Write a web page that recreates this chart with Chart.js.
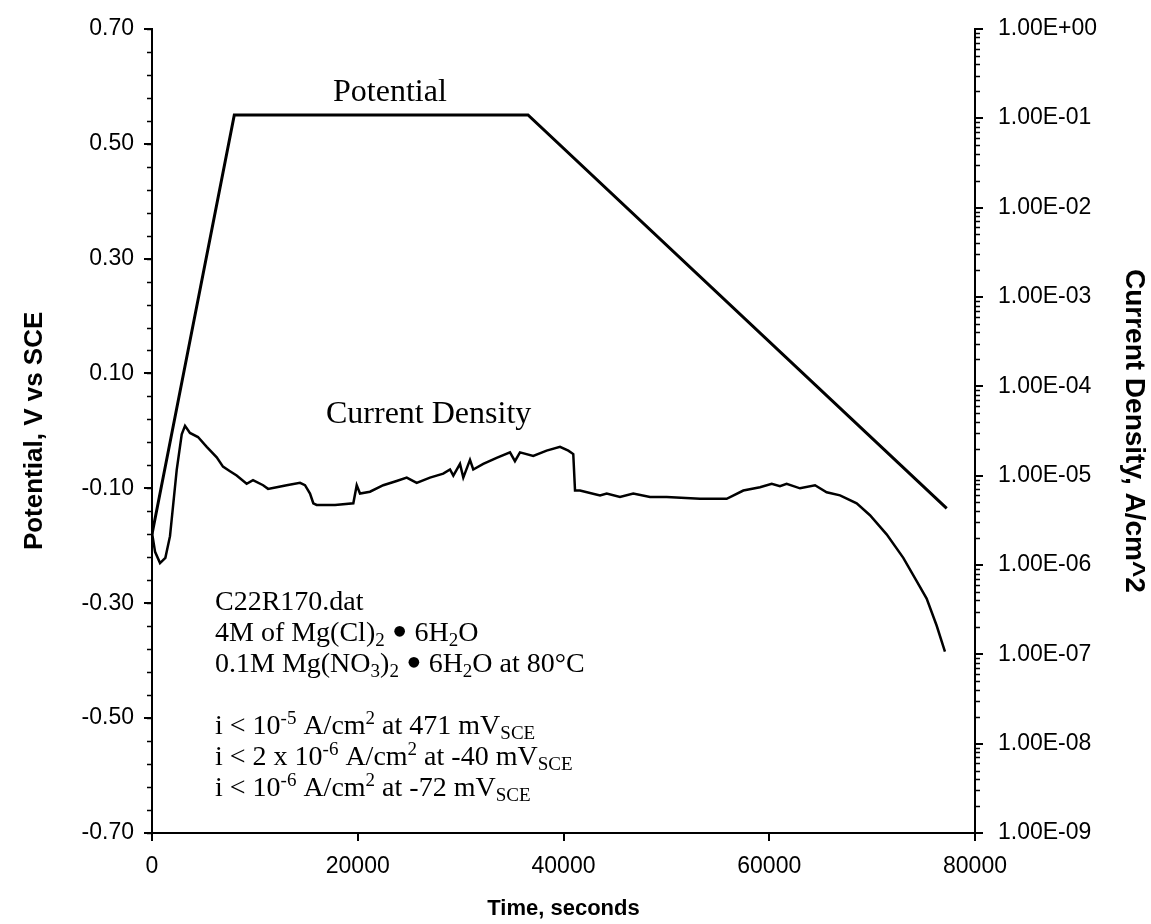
<!DOCTYPE html>
<html>
<head>
<meta charset="utf-8">
<script src="https://cdn.jsdelivr.net/npm/chart.js@4.4.1/dist/chart.umd.min.js"></script>
<style>
  html, body { margin: 0; padding: 0; background: #fff; }
  #wrap { width: 1151px; height: 924px; position: relative; }
</style>
</head>
<body>
<div id="wrap"><canvas id="chart"></canvas></div>
<script>
// tick labels
var timeTicks = [0, 20000, 40000, 60000, 80000];
var potentialTicks = [-0.7, -0.5, -0.3, -0.1, 0.1, 0.3, 0.5, 0.7];
var currentTicks = [1e-9, 1e-8, 1e-7, 1e-6, 1e-5, 1e-4, 1e-3, 1e-2, 1e-1, 1];

// applied potential, V vs SCE
var potTime = [0, 8000, 36550, 77250];
var potValue = [-0.18, 0.55, 0.55, -0.135];

// measured current density, A/cm^2
var curTime = [0, 300, 780, 1300, 1750, 2400, 2890, 3210, 3690, 4470,
  5320, 6290, 6900, 7580, 8230, 9200, 9820, 10800, 11280, 12120,
  13090, 14390, 14870, 15360, 15680, 16000, 17800, 19570, 19900, 20220,
  21190, 22480, 23780, 24760, 25730, 27020, 28310, 28970, 29290, 29940,
  30260, 30910, 31230, 32200, 33500, 34800, 35280, 35770, 37060, 38360,
  39660, 40470, 40950, 41120, 41600, 43550, 44200, 45490, 46780, 48410,
  50030, 53270, 55860, 57480, 59100, 60240, 61040, 61690, 62990, 64450,
  65580, 66880, 68500, 69790, 71410, 73030, 74330, 75300, 76270, 77080];
var curValue = [2.3e-6, 1.4e-6, 1.05e-6, 1.2e-6, 2.1e-6, 1.15e-5, 2.9e-5, 3.6e-5, 3.0e-5, 2.7e-5,
  2.1e-5, 1.6e-5, 1.26e-5, 1.12e-5, 1.0e-5, 8.1e-6, 8.9e-6, 7.8e-6, 7.1e-6, 7.4e-6,
  7.8e-6, 8.3e-6, 7.8e-6, 6.3e-6, 4.9e-6, 4.7e-6, 4.7e-6, 4.9e-6, 7.8e-6, 6.3e-6,
  6.6e-6, 7.8e-6, 8.7e-6, 9.5e-6, 8.3e-6, 9.5e-6, 1.05e-5, 1.17e-5, 1.0e-5, 1.35e-5,
  9.5e-6, 1.5e-5, 1.17e-5, 1.35e-5, 1.58e-5, 1.82e-5, 1.45e-5, 1.82e-5, 1.66e-5, 1.9e-5,
  2.1e-5, 1.9e-5, 1.74e-5, 6.8e-6, 6.8e-6, 6.0e-6, 6.3e-6, 5.75e-6, 6.3e-6, 5.75e-6,
  5.75e-6, 5.5e-6, 5.5e-6, 6.8e-6, 7.4e-6, 8.1e-6, 7.6e-6, 8.1e-6, 7.2e-6, 7.8e-6,
  6.5e-6, 6.0e-6, 4.9e-6, 3.6e-6, 2.2e-6, 1.2e-6, 6.6e-7, 4.2e-7, 2.1e-7, 1.07e-7];

var sans = '"Liberation Sans", Arial, sans-serif';
var serif = '"Liberation Serif", "Times New Roman", serif';

// [text, mode] pieces; mode: sub / sup / dot
var notes = [
  [["C22R170.dat"]],
  [["4M of Mg(Cl)"], ["2", "sub"], [" "], ["\u2022", "dot"], [" 6H"], ["2", "sub"], ["O"]],
  [["0.1M Mg(NO"], ["3", "sub"], [")"], ["2", "sub"], [" "], ["\u2022", "dot"], [" 6H"], ["2", "sub"], ["O at 80\u00b0C"]],
  null,
  [["i < 10"], ["-5", "sup"], [" A/cm"], ["2", "sup"], [" at 471 mV"], ["SCE", "sub"]],
  [["i < 2 x 10"], ["-6", "sup"], [" A/cm"], ["2", "sup"], [" at -40 mV"], ["SCE", "sub"]],
  [["i < 10"], ["-6", "sup"], [" A/cm"], ["2", "sup"], [" at -72 mV"], ["SCE", "sub"]]
];

function drawRich(ctx, x, y, parts, size) {
  parts.forEach(function(p) {
    var s = size, dy = 0;
    if (p[1] == 'sub') { s = Math.round(size * 0.68); dy = size * 0.2; }
    if (p[1] == 'sup') { s = Math.round(size * 0.68); dy = -size * 0.36; }
    if (p[1] == 'dot') { s = Math.round(size * 1.6); dy = size * 0.2; }
    ctx.font = s + 'px ' + serif;
    ctx.fillText(p[0], x, y + dy);
    x += ctx.measureText(p[0]).width;
  });
}

function sci(v) {
  var e = Math.round(Math.log10(v));
  var m = (v / Math.pow(10, e)).toFixed(2);
  var a = Math.abs(e);
  return m + 'E' + (e < 0 ? '-' : '+') + (a < 10 ? '0' : '') + a;
}

var extras = {
  id: 'extras',
  afterDraw: function(chart) {
    var ctx = chart.ctx;
    var y = chart.scales.y, y2 = chart.scales.y2, area = chart.chartArea;
    ctx.save();
    // minor tick marks
    ctx.strokeStyle = '#000';
    ctx.lineWidth = 1.5;
    ctx.beginPath();
    for (var i = 0; i <= 35; i++) {
      var py = Math.round(y.getPixelForValue(-0.7 + i * 0.04)) + 0.5;
      ctx.moveTo(area.left, py);
      ctx.lineTo(area.left - 5, py);
    }
    for (var d = -9; d < 0; d++) {
      for (var k = 2; k <= 9; k++) {
        var py2 = Math.round(y2.getPixelForValue(k * Math.pow(10, d))) + 0.5;
        ctx.moveTo(area.right, py2);
        ctx.lineTo(area.right + 5, py2);
      }
    }
    ctx.stroke();

    // labels and notes
    ctx.fillStyle = '#000';
    ctx.textAlign = 'left';
    ctx.textBaseline = 'alphabetic';
    ctx.font = '32px ' + serif;
    ctx.fillText('Potential', area.left + 181, area.top + 72);
    ctx.fillText('Current Density', area.left + 174, area.top + 394);

    var base = area.top + 581;
    notes.forEach(function(line, n) {
      if (line) drawRich(ctx, area.left + 63, base + n * 31, line, 28);
    });
    ctx.restore();
  }
};

var tickFont = { family: sans, size: 23 };
var axisGrid = { drawOnChartArea: false, drawTicks: true, tickLength: 8, color: '#000', lineWidth: 2 };
var axisBorder = { display: true, color: '#000', width: 2 };

new Chart(document.getElementById('chart').getContext('2d'), {
  type: 'line',
  data: {
    datasets: [{
      label: 'Potential',
      data: potTime.map(function(t, i) { return { x: t, y: potValue[i] }; }),
      yAxisID: 'y',
      borderColor: '#000',
      borderWidth: 3,
      pointRadius: 0,
      tension: 0
    }, {
      label: 'Current Density',
      data: curTime.map(function(t, i) { return { x: t, y: curValue[i] }; }),
      yAxisID: 'y2',
      borderColor: '#000',
      borderWidth: 2.5,
      pointRadius: 0,
      tension: 0
    }]
  },
  options: {
    responsive: true,
    maintainAspectRatio: false,
    animation: false,
    layout: { padding: { top: 20, left: 0, right: 0, bottom: 0 } },
    plugins: { legend: { display: false }, tooltip: { enabled: false } },
    scales: {
      x: {
        type: 'linear',
        position: 'bottom',
        min: 0,
        max: 80000,
        afterBuildTicks: function(s) { s.ticks = timeTicks.map(function(v) { return { value: v }; }); },
        afterFit: function(s) { s.height = 91; },
        ticks: { font: tickFont, color: '#000', padding: 12, maxRotation: 0,
          callback: function(v) { return String(v); } },
        grid: axisGrid,
        border: axisBorder,
        title: { display: true, text: 'Time, seconds', color: '#000',
          font: { family: sans, size: 22, weight: 'bold' }, padding: { top: 0, bottom: 2 } }
      },
      y: {
        type: 'linear',
        position: 'left',
        min: -0.7,
        max: 0.7,
        afterBuildTicks: function(s) { s.ticks = potentialTicks.map(function(v) { return { value: v }; }); },
        afterFit: function(s) { s.width = 152; },
        ticks: { font: tickFont, color: '#000', padding: 10,
          callback: function(v) { return v.toFixed(2); } },
        grid: axisGrid,
        border: axisBorder,
        title: { display: true, text: 'Potential, V vs SCE', color: '#000',
          font: { family: sans, size: 26, weight: 'bold' }, padding: { top: 19, bottom: 0 } }
      },
      y2: {
        type: 'logarithmic',
        position: 'right',
        min: 1e-9,
        max: 1,
        afterBuildTicks: function(s) { s.ticks = currentTicks.map(function(v) { return { value: v }; }); },
        afterFit: function(s) { s.width = 176; },
        ticks: { font: tickFont, color: '#000', padding: 15,
          callback: function(v) { return sci(v); } },
        grid: axisGrid,
        border: axisBorder,
        title: { display: true, text: 'Current Density, A/cm^2', color: '#000',
          font: { family: sans, size: 28, weight: 'bold' }, padding: { top: 0, bottom: 0 } }
      }
    }
  },
  plugins: [extras]
});
</script>
</body>
</html>
